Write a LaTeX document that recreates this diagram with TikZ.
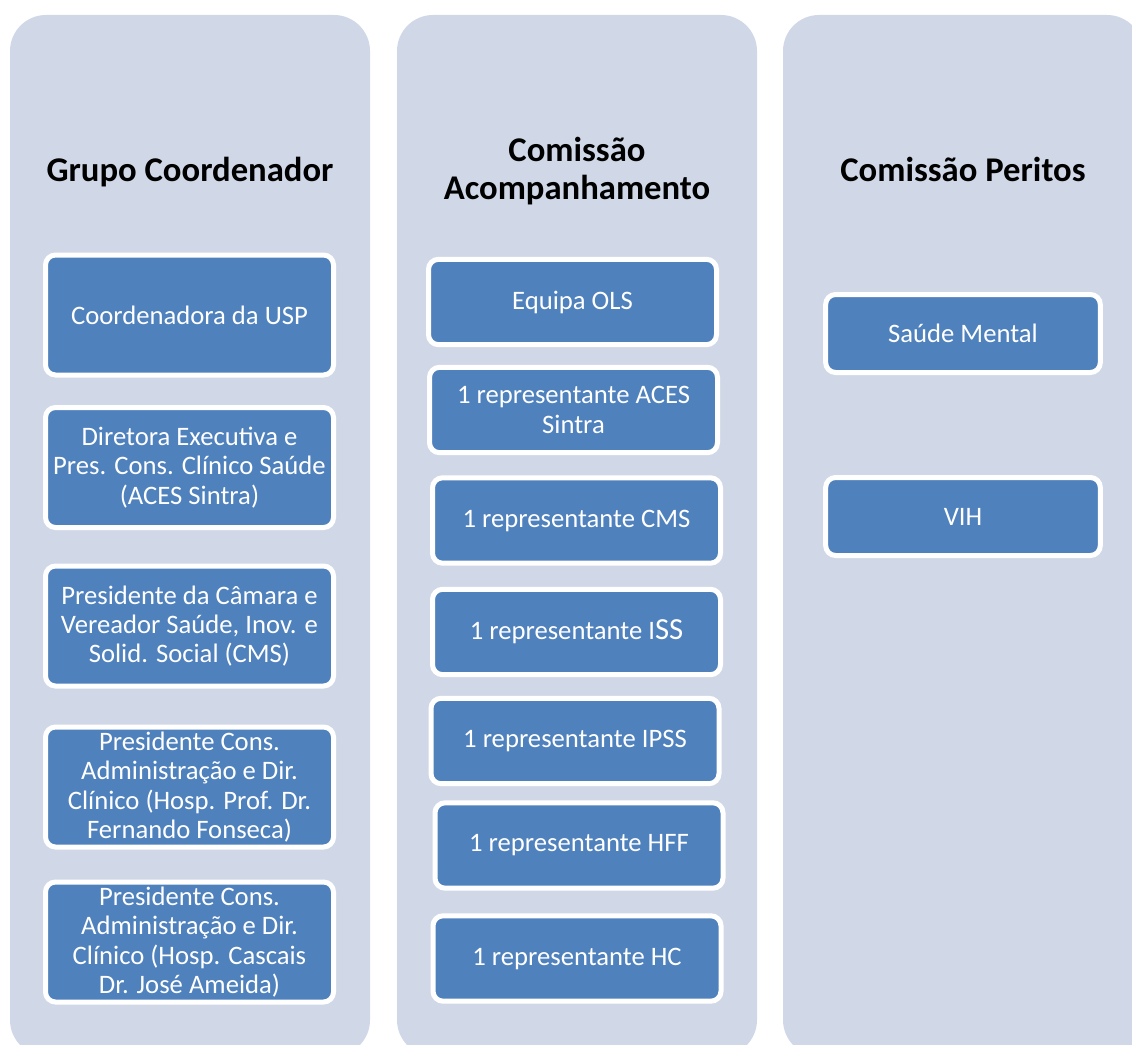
\documentclass[tikz,border=0pt]{standalone}
\usepackage{fontspec}
\setmainfont{Carlito}
\definecolor{panelgray}{RGB}{208,216,232}
\definecolor{boxblue}{RGB}{79,129,189}
\tikzset{every picture/.style={line width=0.75pt}}
\tikzset{
  panel/.style={fill=panelgray, draw=none, rounded corners=27pt},
  heading/.style={inner sep=0pt, align=center, font=\fontsize{26}{28.5}\selectfont\bfseries},
  member/.style={rounded corners=7.5pt, fill=boxblue, draw=white, line width=3.75pt,
    text=white, align=center, inner sep=0pt, font=\fontsize{20}{22}\selectfont},
  memberA/.style={member, minimum width=216pt, minimum height=90pt},
  memberB/.style={member, minimum width=216pt, minimum height=64pt},
  memberC/.style={member, minimum width=206pt, minimum height=58.5pt}
}

\begin{document}
\begin{tikzpicture}[x=0.75pt,y=0.75pt,yscale=-1,xscale=1]
\useasboundingbox (0,0) rectangle (1132,1045);

%Shape: Panels
\fill [panel] (10,15) rectangle (370,1056);
\fill [panel] (397,15) rectangle (757,1056);
\fill [panel] (783,15) rectangle (1143,1056);

% Text Node
\draw (190,182) node (gc) [heading, anchor=base] {Grupo Coordenador};
% Text Node
\draw (577,171.5) node (ca) [heading] {Comissão\\Acompanhamento};
% Text Node
\draw (963,182) node (cp) [heading, anchor=base] {Comissão Peritos};

%Grupo Coordenador
\draw (189.5,315) node (gc1) [memberA] {Coordenadora da USP};
\draw (189.5,467.5) node (gc2) [memberA] {Diretora Executiva e\\Pres. Cons. Clínico Saúde\\(ACES Sintra)};
\draw (189.5,626) node (gc3) [memberA] {Presidente da Câmara e\\Vereador Saúde, Inov. e\\Solid. Social (CMS)};
\draw (189.5,787) node (gc4) [memberA] {Presidente Cons.\\Administração e Dir.\\Clínico (Hosp. Prof. Dr.\\Fernando Fonseca)};
\draw (189.5,942) node (gc5) [memberA] {Presidente Cons.\\Administração e Dir.\\Clínico (Hosp. Cascais\\Dr. José Ameida)};

%Comissão Acompanhamento
\draw (572.5,302) node (ca1) [memberB] {Equipa OLS};
\draw (573.5,410) node (ca2) [memberB] {1 representante ACES\\Sintra};
\draw (576.5,520.5) node (ca3) [memberB] {1 representante CMS};
\draw (576.5,632) node (ca4) [memberB] {1 representante I{\fontsize{23}{22}\selectfont SS}};
\draw (575,741) node (ca5) [memberB] {1 representante IPSS};
\draw (579,845.5) node (ca6) [memberB] {1 representante HFF};
\draw (577,958.5) node (ca7) [memberB] {1 representante HC};

%Comissão Peritos
\draw (963,333.5) node (cp1) [memberC] {Saúde Mental};
\draw (963,516.5) node (cp2) [memberC] {VIH};

\end{tikzpicture}
\end{document}
